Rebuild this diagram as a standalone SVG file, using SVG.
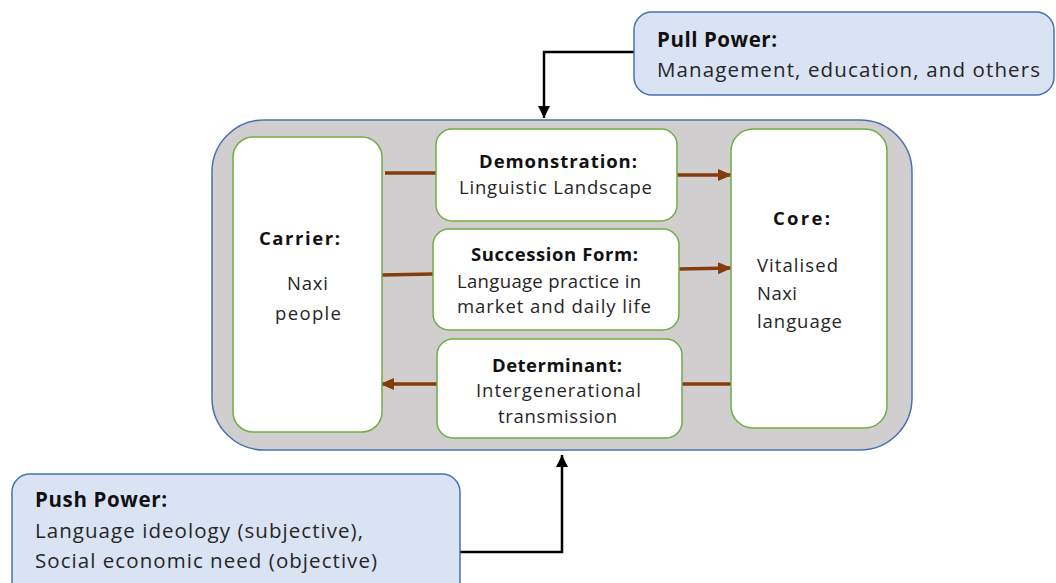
<svg xmlns="http://www.w3.org/2000/svg" width="1056" height="583" viewBox="0 0 1056 583">
<style>
.t{font-family:"Open Sans","Noto Sans",sans-serif;fill:#262626;font-size:18.5px}
.b{font-weight:bold;fill:#111}
.big{font-size:20.5px}
.inner{fill:#fff;stroke:#70ad47;stroke-width:1.5}
.power{fill:#dae3f3;stroke:#4a72b0;stroke-width:1.5}
.br{stroke:#843c0c;stroke-width:3.5;fill:none}
.bk{stroke:#000;stroke-width:2.5;fill:none}
</style>
<defs>
<marker id="ab" markerUnits="userSpaceOnUse" markerWidth="14" markerHeight="12" refX="13" refY="6" orient="auto">
<path d="M0,0 L14,6 L0,12 Z" fill="#843c0c"/>
</marker>
<marker id="ak" markerUnits="userSpaceOnUse" markerWidth="12" markerHeight="12" refX="12" refY="6" orient="auto">
<path d="M0,0 L12,6 L0,12 Z" fill="#000"/>
</marker>
</defs>
<g id="container">
<rect x="212" y="120" width="700" height="330" rx="52" ry="52" fill="#d0cece" stroke="#4a72b0" stroke-width="1.5"/>
</g>
<g id="connectors">
<line class="br" x1="385" y1="173" x2="436" y2="173"/>
<line class="br" x1="677" y1="175" x2="731" y2="175" marker-end="url(#ab)"/>
<line class="br" x1="382" y1="275" x2="433" y2="274"/>
<line class="br" x1="679" y1="269" x2="731" y2="268" marker-end="url(#ab)"/>
<line class="br" x1="731" y1="384" x2="682" y2="384"/>
<line class="br" x1="437" y1="384" x2="381" y2="384" marker-end="url(#ab)"/>
<polyline class="bk" points="634,52 544,52 544,118" marker-end="url(#ak)"/>
<polyline class="bk" points="460,552 562,552 562,455" marker-end="url(#ak)"/>
</g>
<g id="carrier">
<rect class="inner" x="233" y="137" width="149" height="295" rx="20"/>
<text class="t b" x="299.5" y="245" text-anchor="middle" textLength="81">Carrier:</text>
<text class="t" x="307.5" y="290" text-anchor="middle" textLength="41">Naxi</text>
<text class="t" x="308" y="320" text-anchor="middle" textLength="66">people</text>
</g>
<g id="demonstration">
<rect class="inner" x="436" y="129" width="241" height="92" rx="16"/>
<text class="t b" x="558" y="168" text-anchor="middle" textLength="158">Demonstration:</text>
<text class="t" x="555.5" y="194" text-anchor="middle" textLength="193">Linguistic Landscape</text>
</g>
<g id="succession">
<rect class="inner" x="433" y="229" width="246" height="101" rx="16"/>
<text class="t b" x="554.5" y="261" text-anchor="middle" textLength="167">Succession Form:</text>
<text class="t" x="549" y="288" text-anchor="middle" textLength="184">Language practice in</text>
<text class="t" x="554" y="313" text-anchor="middle" textLength="194">market and daily life</text>
</g>
<g id="determinant">
<rect class="inner" x="437" y="339" width="245" height="99" rx="16"/>
<text class="t b" x="557" y="372" text-anchor="middle" textLength="130">Determinant:</text>
<text class="t" x="558.5" y="397" text-anchor="middle" textLength="165">Intergenerational</text>
<text class="t" x="557.5" y="423" text-anchor="middle" textLength="119">transmission</text>
</g>
<g id="core">
<rect class="inner" x="731" y="129" width="156" height="299" rx="22"/>
<text class="t b" x="773" y="225" textLength="57">Core:</text>
<text class="t" x="757" y="272" textLength="81">Vitalised</text>
<text class="t" x="757" y="300" textLength="40">Naxi</text>
<text class="t" x="757" y="328" textLength="85">language</text>
</g>
<g id="pull">
<rect class="power" x="634" y="12" width="420" height="83" rx="18"/>
<text class="t b big" x="657" y="47" textLength="120">Pull Power:</text>
<text class="t big" x="657" y="77" textLength="383">Management, education, and others</text>
</g>
<g id="push">
<rect class="power" x="12" y="474" width="448" height="130" rx="18"/>
<text class="t b big" x="35" y="507" textLength="132">Push Power:</text>
<text class="t big" x="35" y="538" textLength="328">Language ideology (subjective),</text>
<text class="t big" x="35" y="568" textLength="342">Social economic need (objective)</text>
</g>
</svg>
